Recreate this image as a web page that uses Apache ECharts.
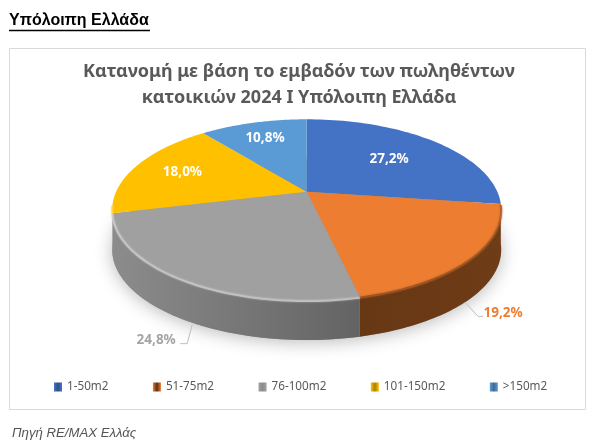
<!DOCTYPE html>
<html><head><meta charset="utf-8">
<style>html,body{margin:0;padding:0;background:#fff}#c{width:595px;height:447px}</style>
<script src="https://cdn.jsdelivr.net/npm/echarts@6/dist/echarts.min.js"></script>
</head><body><div id="c"></div>
<script>
const categories = ['1-50m2','51-75m2','76-100m2','101-150m2','>150m2'];
const shares = [27.2,19.2,24.8,18.0,10.8];
const topColors = ['#4472c4','#ed7d31','#a0a0a0','#ffc000','#5b9bd5'];
const sideStops = [['#2f4f88','#2f4f88'],['#5c2e10','#6e3c16'],['#8c8c8c','#4c4c4c'],['#a87f00','#b08500'],['#3d6a92','#3d6a92']];
const bevelColors = ['#6f93d6','#a85a24','#cfcfcf','#ffd34d','#84b5e0'];
const labelColors = ['#ffffff','#ed7d31','#a5a5a5','#ffffff','#ffffff'];
const insideR = [0.62,null,null,0.72,0.75];
const leaders = [null,{dx:-4,dy:3,ex:13,ey:14,tx:5,side:1,lx:20},{dx:6,dy:4,ex:-5,ey:19,tx:-7,side:-1,lx:-24},null,null];

const cx=306.7, cy=191.7, R=190.6, S=86.8, P=0.199, DEPTH=40;
const total = shares.reduce((a,b)=>a+b,0);
function pt(th,r){r=r===undefined?1:r;const u=Math.sin(th),v=Math.cos(th),w=1+P*r*v;return [cx+R*r*u/w,cy-S*r*v/w];}
function arc(a,b,n){const o=[];for(let i=0;i<=n;i++)o.push(pt(a+(b-a)*i/n));return o;}

function renderSlice(idx){
  return function(params,api){
    const val=api.value(0);
    let before=0;for(let i=0;i<idx;i++)before+=shares[i];
    const a=before/total*2*Math.PI,b=(before+val)/total*2*Math.PI,mid=(a+b)/2;
    const edge=arc(a,b,60);
    const low=edge.map(p=>[p[0],p[1]+DEPTH]).reverse();
    const kids=[];
    if(idx===0){
      const ring=arc(0,2*Math.PI,120).map(p=>[p[0],p[1]+DEPTH]);
      kids.push({type:'polygon',z2:0,shape:{points:ring},style:{fill:'#999',shadowBlur:18,shadowColor:'rgba(0,0,0,0.28)',shadowOffsetY:2}});
    }
    if(Math.cos(mid)<0){
      kids.push({type:'polygon',z2:1,shape:{points:edge.concat(low)},style:{fill:new echarts.graphic.LinearGradient(112,0,500,0,[{offset:0,color:sideStops[idx][0]},{offset:1,color:sideStops[idx][1]}],true)}});
    }
    kids.push({type:'polygon',z2:2,shape:{points:[[cx,cy]].concat(edge)},style:{fill:topColors[idx]}});
    const front=edge.filter(p=>p[1]>cy+12);
    if(front.length>1)kids.push({type:'polyline',z2:3,shape:{points:front.map(p=>[p[0],p[1]+1])},style:{stroke:bevelColors[idx],lineWidth:2,fill:null,opacity:.7,shadowBlur:2,shadowColor:bevelColors[idx]}});
    const txt=val.toFixed(1).replace('.',',')+'%';
    if(insideR[idx]){
      const q=pt(mid,insideR[idx]);
      kids.push({type:'text',z2:6,style:{text:txt,x:q[0],y:q[1],fill:labelColors[idx],font:'bold 13.5px "Noto Sans"',align:'center',verticalAlign:'middle'}});
    } else {
      const L=leaders[idx],e=pt(mid);
      const s=[e[0]+L.dx,e[1]+DEPTH+L.dy],m=[s[0]+L.ex,s[1]+L.ey],t=[m[0]+L.tx,m[1]];
      kids.push({type:'polyline',z2:5,shape:{points:[s,m,t]},style:{stroke:'#bfbfbf',lineWidth:1,fill:null}});
      kids.push({type:'text',z2:6,style:{text:txt,x:t[0]+L.lx,y:t[1]-3.5,fill:labelColors[idx],font:'bold 13.5px "Noto Sans"',align:'center',verticalAlign:'middle'}});
    }
    return {type:'group',children:kids};
  };
}
function legendFill(i){
  return new echarts.graphic.LinearGradient(0,0,1,0,[{offset:0,color:topColors[i]},{offset:.5,color:sideStops[i][0]},{offset:1,color:topColors[i]}]);
}
const chart=echarts.init(document.getElementById('c'),null,{renderer:'canvas'});
chart.setOption({
  animation:false,
  backgroundColor:'#fff',
  title:{text:'Κατανομή με βάση το εμβαδόν των πωληθέντων\nκατοικιών 2024 I Υπόλοιπη Ελλάδα',left:294,textAlign:'center',top:54,
    textStyle:{fontFamily:'"Noto Sans"',fontSize:18,fontWeight:'bold',color:'#595959',lineHeight:26}},
  legend:{left:54,top:381,padding:0,itemWidth:8,itemHeight:9,itemGap:44.5,icon:'rect',selectedMode:false,
    textStyle:{fontFamily:'"Noto Sans"',fontSize:11.7,color:'#595959'},
    data:categories.map((n,i)=>({name:n,itemStyle:{color:legendFill(i)}}))},
  graphic:[
    {type:'rect',z:-1,shape:{x:9.5,y:48.5,width:576,height:361},style:{fill:'#fff',stroke:'#d9d9d9',lineWidth:1}},
    {type:'text',style:{text:'Υπόλοιπη Ελλάδα',x:9,y:13,fill:'#000',font:'bold 16px "Liberation Sans"'}},
    {type:'line',shape:{x1:9,y1:30.5,x2:150,y2:30.5},style:{stroke:'#000',lineWidth:1.5}},
    {type:'text',style:{text:'Πηγή RE/MAX Ελλάς',x:12,y:427,fill:'#555',font:'italic 13.2px "Liberation Sans"'}}
  ],
  series:categories.map((n,i)=>({type:'custom',name:n,coordinateSystem:'none',silent:true,renderItem:renderSlice(i),data:[[shares[i]]],itemStyle:{color:topColors[i]}}))
});
</script></body></html>
